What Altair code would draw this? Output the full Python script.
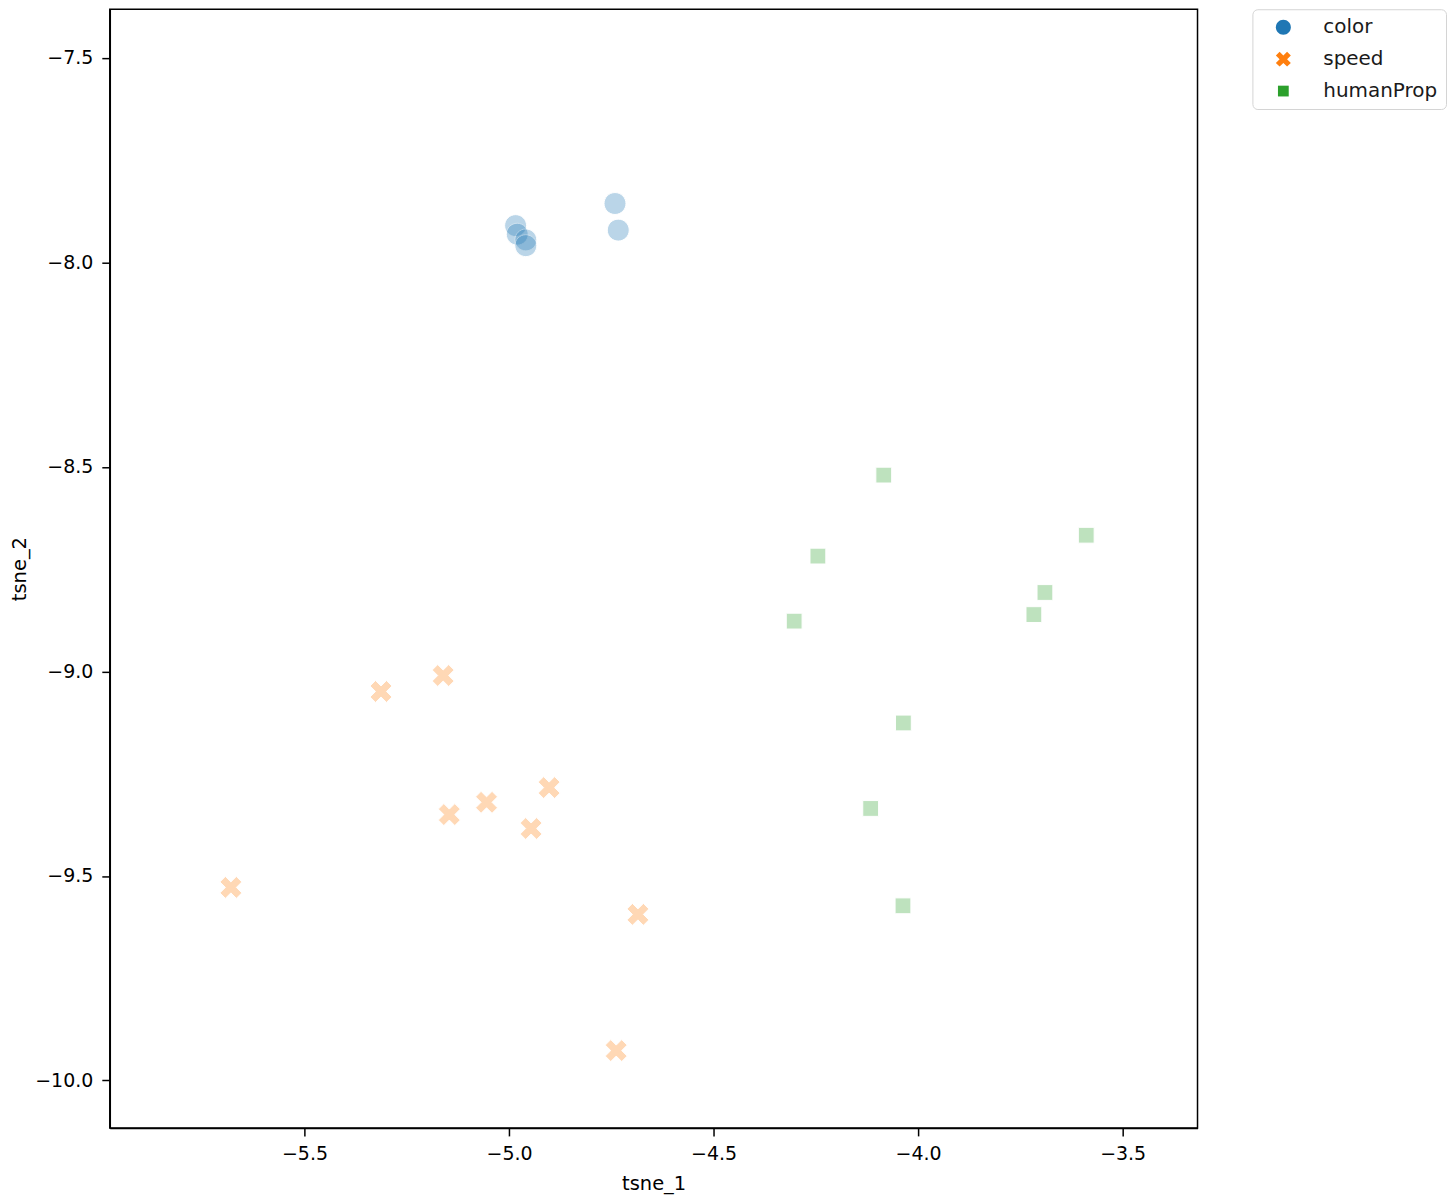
import altair as alt
import pandas as pd

categories = ["color", "speed", "humanProp"]
palette = ["#1f77b4", "#ff7f0e", "#2ca02c"]

color_x = [-4.741, -4.733, -4.984, -4.980, -4.959, -4.959]
color_y = [-7.856, -7.921, -7.910, -7.931, -7.945, -7.959]
speed_x = [-5.313, -5.161, -4.902, -5.055, -5.146, -4.946, -5.680, -4.685, -4.738]
speed_y = [-9.049, -9.010, -9.284, -9.320, -9.350, -9.384, -9.528, -9.594, -9.927]
human_x = [-4.084, -3.589, -4.245, -3.690, -3.717, -4.303, -4.036, -4.116, -4.037]
human_y = [-8.520, -8.667, -8.718, -8.807, -8.861, -8.877, -9.126, -9.335, -9.573]

x_ticks = [-5.5, -5.0, -4.5, -4.0, -3.5]
y_ticks = [-10.0, -9.5, -9.0, -8.5, -8.0, -7.5]

rows = []
for name, xs, ys in [("color", color_x, color_y), ("speed", speed_x, speed_y), ("humanProp", human_x, human_y)]:
    for a, b in zip(xs, ys):
        rows.append({"tsne_1": a, "tsne_2": b, "label": name})
df = pd.DataFrame(rows)

circle_path = "M -1 0 A 1 1 0 1 0 1 0 A 1 1 0 1 0 -1 0 Z"
x_path = ("M -1 -0.5 L -0.5 -1 L 0 -0.5 L 0.5 -1 L 1 -0.5 L 0.5 0 "
          "L 1 0.5 L 0.5 1 L 0 0.5 L -0.5 1 L -1 0.5 L -0.5 0 Z")
square_path = "M -0.72 -0.72 L 0.72 -0.72 L 0.72 0.72 L -0.72 0.72 Z"
shapes = [circle_path, x_path, square_path]

legend = alt.Legend(
    title=None,
    orient="none",
    legendX=1145,
    legendY=0,
    symbolSize=225,
    symbolOpacity=1,
    symbolStrokeWidth=0,
    labelFontSize=20,
    labelFont="DejaVu Sans",
    labelColor="#1a1a1a",
    labelOffset=30,
    rowPadding=12,
    padding=8,
    symbolOffset=13,
    strokeColor="#d4d4d4",
    fillColor="white",
    cornerRadius=5,
)

chart = (
    alt.Chart(df)
    .mark_point(filled=True, opacity=0.3, stroke="white", strokeWidth=1.0, size=484)
    .encode(
        x=alt.X(
            "tsne_1:Q",
            scale=alt.Scale(domain=[-5.976, -3.317], nice=False, zero=False),
            axis=alt.Axis(values=x_ticks, format=".1f", title="tsne_1", labelPadding=9, titlePadding=11),
        ),
        y=alt.Y(
            "tsne_2:Q",
            scale=alt.Scale(domain=[-10.116, -7.381], nice=False, zero=False),
            axis=alt.Axis(values=y_ticks, format=".1f", title="tsne_2", labelPadding=9, titlePadding=5),
        ),
        color=alt.Color("label:N", scale=alt.Scale(domain=categories, range=palette), legend=legend),
        shape=alt.Shape("label:N", scale=alt.Scale(domain=categories, range=shapes), legend=legend),
    )
    .properties(
        width=1090,
        height=1121,
        autosize=alt.AutoSizeParams(type="none"),
        padding={"left": 102, "top": 0, "right": 250, "bottom": 68},
    )
    .configure_view(stroke="black", strokeWidth=1.5)
    .configure_axis(
        grid=False,
        labelFont="DejaVu Sans",
        labelFontSize=19,
        labelColor="black",
        titleFont="DejaVu Sans",
        titleFontSize=19.5,
        titleFontWeight="normal",
        titleColor="black",
        domainColor="black",
        domainWidth=1.5,
        tickColor="black",
        tickWidth=1.5,
        tickSize=8,
    )
)

chart.save("out.html", embed_options={"renderer": "svg", "actions": False})
